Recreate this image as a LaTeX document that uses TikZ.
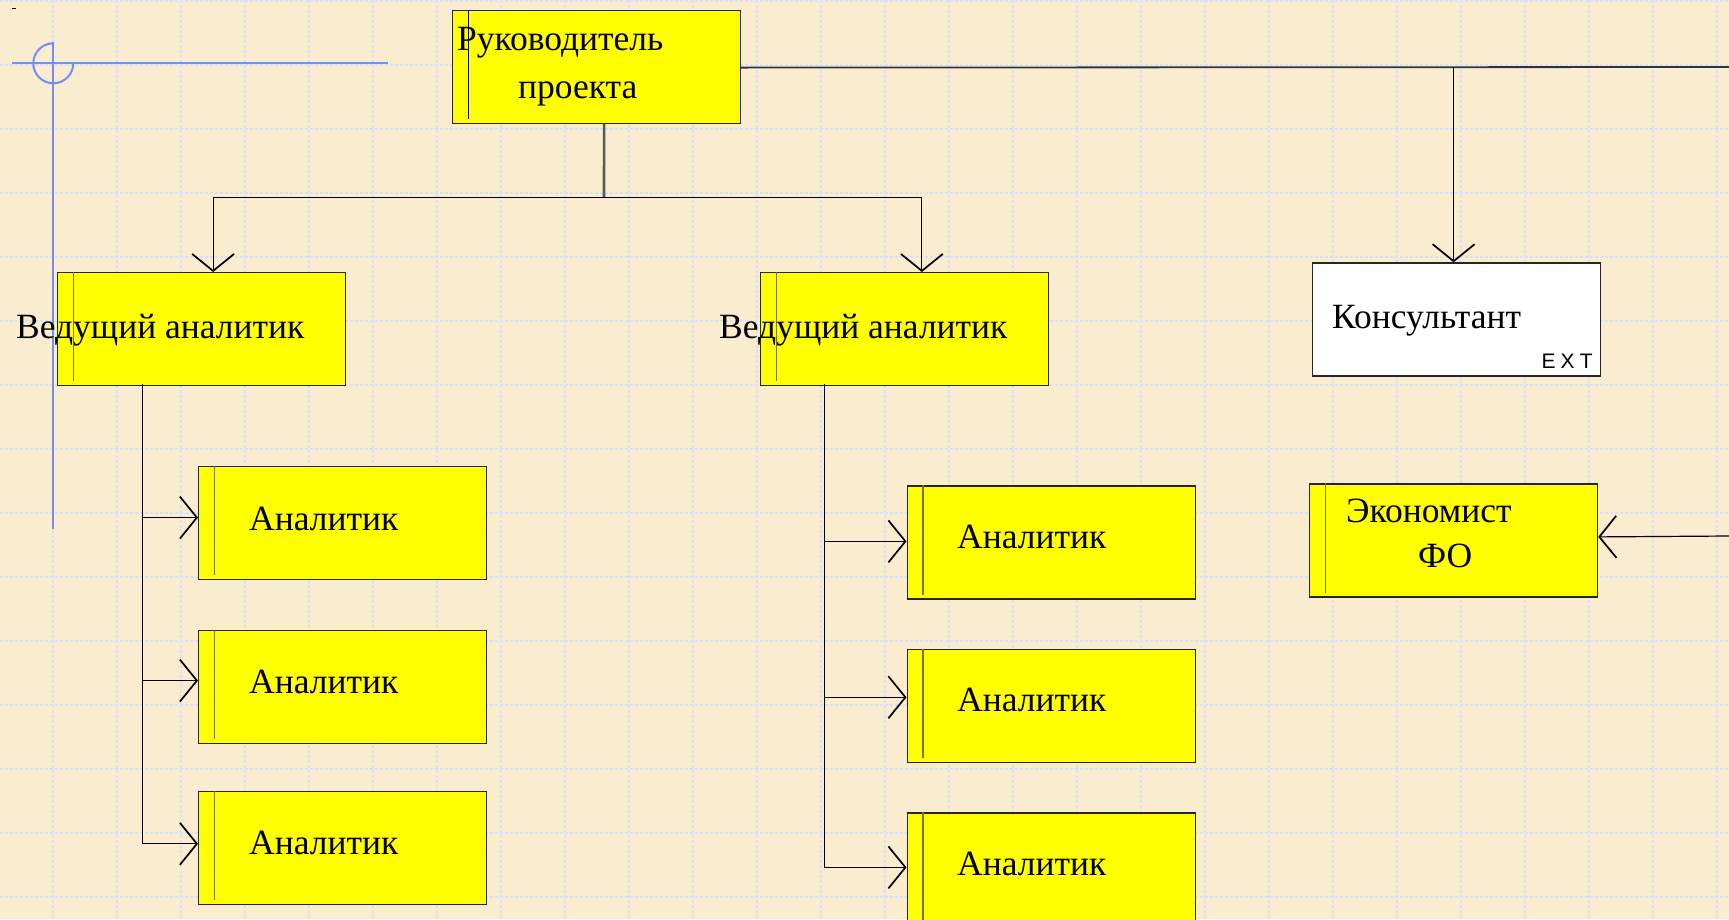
\documentclass[tikz,border=0pt]{standalone}
\usepackage{fontspec}
\setmainfont{Liberation Serif}
\newfontfamily\extfont[LetterSpace=24]{Liberation Sans}
\usetikzlibrary{arrows.meta}

\definecolor{paper}{RGB}{250,236,206}
\definecolor{gridline}{RGB}{216,225,250}
\definecolor{guide}{RGB}{112,142,255}
\definecolor{boxyellow}{RGB}{255,255,0}
\definecolor{stripe}{RGB}{120,120,0}

\tikzset{
  role/.style={draw=black!85, line width=1.2pt, fill=boxyellow,
    minimum width=288pt, minimum height=113pt, inner sep=0pt, anchor=north west},
  extrole/.style={role, fill=white},
  lbl/.style={anchor=base west, inner sep=0pt, font=\fontsize{35.5}{40}\selectfont},
  extlbl/.style={anchor=base west, inner sep=0pt, font=\extfont\fontsize{21}{23}\selectfont},
  conn/.style={draw=black, line width=1.2pt},
  trunk/.style={draw=black!65, line width=2.6pt},
  feed/.style={conn, -{Straight Barb[length=17pt,width=42pt,line width=1.7pt]}},
  gridln/.style={draw=gridline, line width=1.6pt, dash pattern=on 3pt off 2pt},
  guideln/.style={draw=guide, line width=2pt},
  stripeln/.style={draw=stripe, line width=1.5pt},
}

\begin{document}
\begin{tikzpicture}[x=1pt,y=-1pt]
\useasboundingbox (0,0) rectangle (1729,919);
\clip (0,0) rectangle (1729,919);
\fill[paper] (0,0) rectangle (1729,919);

% drawing grid, 64pt pitch
\foreach \k in {0,...,26} \draw[gridln] ({53+64*\k},0) -- ({53+64*\k},919);
\foreach \k in {0,...,14} \draw[gridln] (0,{1+64*\k}) -- (1729,{1+64*\k});

% origin guide
\draw[guideln] (12,63.3) -- (388,63.3);
\draw[guideln] (53.3,42) -- (53.3,529);
\draw[guideln] (53.3,43.3) arc[start angle=270, end angle=0, radius=20];
\draw[black, line width=0.8pt] (12,8) -- (16,8);

% role boxes
\node[role] (chief) at (452,10) {};
\node[role] (lead1) at (57,272) {};
\node[role] (lead2) at (760,272) {};
\node[role] (an1) at (198,466) {};
\node[role] (an2) at (198,629.5) {};
\node[role] (an3) at (198,790.7) {};
\node[role] (an4) at (906.5,485.3) {};
\node[role] (an5) at (906.5,648.7) {};
\node[role] (an6) at (906.5,812.3) {};
\node[extrole] (cons) at (1312,262.3) {};
\node[role] (econ) at (1309,483.3) {};

% left stripes
\draw[black, line width=1.5pt] ([xshift=16.5pt]chief.north west) -- ([xshift=16.5pt,yshift=5pt]chief.south west);
\foreach \b in {lead1,lead2,an1,an2,an3,an4,an5,an6,econ}
  \draw[stripeln] ([xshift=16.5pt]\b.north west) -- ([xshift=16.5pt,yshift=5pt]\b.south west);

% labels
\node[lbl] (chief-a) at (457,50) {Руководитель};
\node[lbl] (chief-b) at (518,98) {проекта};
\node[lbl] (lead1-t) at (16,338) {Ведущий аналитик};
\node[lbl] (lead2-t) at (719,338) {Ведущий аналитик};
\node[lbl] (an1-t) at (249,530) {Аналитик};
\node[lbl] (an2-t) at (249,693.5) {Аналитик};
\node[lbl] (an3-t) at (249,854.7) {Аналитик};
\node[lbl] (an4-t) at (957,548.3) {Аналитик};
\node[lbl] (an5-t) at (957,711.7) {Аналитик};
\node[lbl] (an6-t) at (957,875) {Аналитик};
\node[lbl] (cons-t) at (1332,328) {Консультант};
\node[extlbl] (cons-ext) at (1541.5,368.3) {EXT};
\node[lbl] (econ-a) at (1346,522) {Экономист};
\node[lbl] (econ-b) at (1418,567) {ФО};

% connectors
\coordinate (hub) at (604,197.3);
\coordinate (edgeR) at (1729,67);
\coordinate (edgeE) at (1729,536);
\draw[trunk] ([xshift=7.5pt]chief.south) -- (hub);
\draw[feed] (hub) -| ([xshift=11.5pt]lead1.north);
\draw[feed] (hub) -| ([xshift=17.25pt]lead2.north);
\draw[draw=black!80, line width=1.8pt] ([yshift=-0.5pt]chief.east) -- (edgeR);
\draw[feed] ([xshift=-3pt]cons.north |- edgeR) -- ([xshift=-3pt]cons.north);
\draw[feed] (edgeE) -- ([yshift=3.5pt]econ.east);

\coordinate (trunkL) at (142.7,384);
\coordinate (trunkM) at (824.3,384);
\draw[feed] (trunkL) |- ([yshift=5.5pt]an1.west);
\draw[feed] (trunkL) |- ([yshift=6pt]an2.west);
\draw[feed] (trunkL) |- ([yshift=4pt]an3.west);
\draw[feed] (trunkM) |- ([yshift=1pt]an4.west);
\draw[feed] (trunkM) |- ([yshift=8.5pt]an5.west);
\draw[feed] (trunkM) |- ([yshift=2pt]an6.west);
\end{tikzpicture}
\end{document}
